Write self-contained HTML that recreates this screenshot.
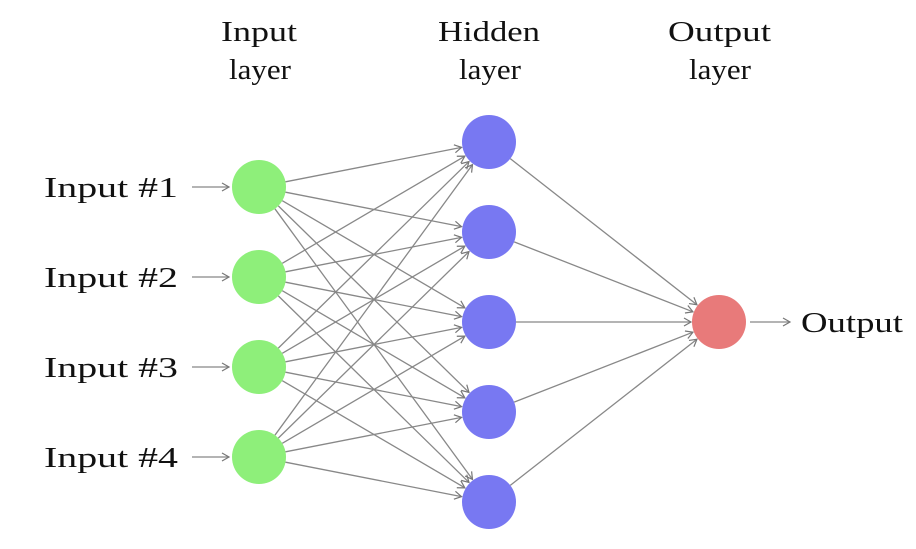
<!DOCTYPE html>
<html><head><meta charset="utf-8"><style>
html,body{margin:0;padding:0;background:#fff;}
svg text{font-family:"Liberation Serif",serif;font-size:29px;fill:#111;}
</style></head><body>
<svg width="916" height="544" viewBox="0 0 916 544" xmlns="http://www.w3.org/2000/svg">
<defs>
<marker id="a" markerWidth="10" markerHeight="10" refX="8" refY="5" orient="auto" markerUnits="userSpaceOnUse">
<path d="M1,1 L8,5 L1,9" fill="none" stroke="#777" stroke-width="1.2"/>
</marker>
</defs>
<g id="edges" stroke="#888" stroke-width="1.3" fill="none"></g>
<text x="221" y="41" textLength="76" lengthAdjust="spacingAndGlyphs">Input</text>
<text x="229" y="79" textLength="62" lengthAdjust="spacingAndGlyphs">layer</text>
<text x="438" y="41" textLength="102" lengthAdjust="spacingAndGlyphs">Hidden</text>
<text x="459" y="79" textLength="62" lengthAdjust="spacingAndGlyphs">layer</text>
<text x="668" y="41" textLength="103" lengthAdjust="spacingAndGlyphs">Output</text>
<text x="689" y="79" textLength="62" lengthAdjust="spacingAndGlyphs">layer</text>
<text x="44" y="197" textLength="134" lengthAdjust="spacingAndGlyphs">Input #1</text>
<text x="44" y="287" textLength="134" lengthAdjust="spacingAndGlyphs">Input #2</text>
<text x="44" y="377" textLength="134" lengthAdjust="spacingAndGlyphs">Input #3</text>
<text x="44" y="467" textLength="134" lengthAdjust="spacingAndGlyphs">Input #4</text>
<text x="801" y="332" textLength="102" lengthAdjust="spacingAndGlyphs">Output</text>
</svg>
<script>
const s=document.querySelector('svg'),g=document.getElementById('edges'),NS='http://www.w3.org/2000/svg';
const I=[187,277,367,457].map(y=>[259,y]),H=[142,232,322,412,502].map(y=>[489,y]),O=[[719,322]];
const r=27;
function line(x1,y1,x2,y2){const l=document.createElementNS(NS,'line');l.setAttribute('x1',x1);l.setAttribute('y1',y1);l.setAttribute('x2',x2);l.setAttribute('y2',y2);l.setAttribute('marker-end','url(#a)');g.appendChild(l);}
function conn(a,b){const dx=b[0]-a[0],dy=b[1]-a[1],d=Math.hypot(dx,dy);line(a[0]+dx/d*r,a[1]+dy/d*r,b[0]-dx/d*(r+1),b[1]-dy/d*(r+1));}
I.forEach(a=>H.forEach(b=>conn(a,b)));H.forEach(a=>conn(a,O[0]));
I.forEach(a=>line(192,a[1],229,a[1]));line(750,322,790,322);
function circ(c,f){const e=document.createElementNS(NS,'circle');e.setAttribute('cx',c[0]);e.setAttribute('cy',c[1]);e.setAttribute('r',r);e.setAttribute('fill',f);s.appendChild(e);}
I.forEach(c=>circ(c,'#8eef7a'));H.forEach(c=>circ(c,'#7878f2'));circ(O[0],'#e87a7a');
</script>
</body></html>
